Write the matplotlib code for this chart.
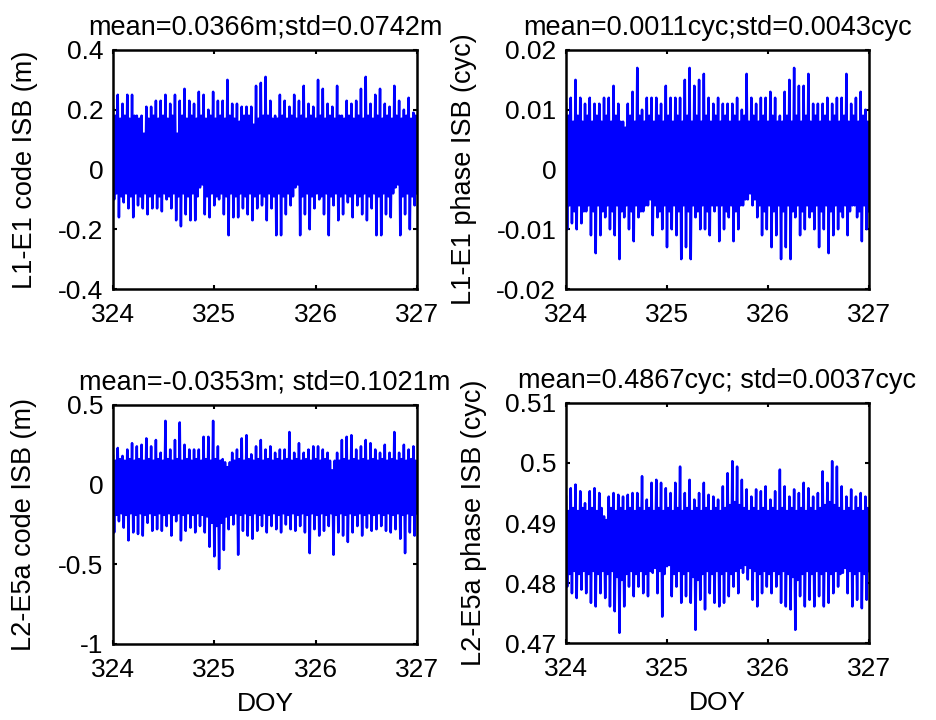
import numpy as np
import matplotlib
matplotlib.use("Agg")
import matplotlib.pyplot as plt

plt.rcParams['font.family'] = ['Liberation Sans', 'DejaVu Sans']
plt.rcParams['axes.unicode_minus'] = False

# epochs span DOY 324 - 327
doy_start, doy_end = 324, 327

# L1-E1 code ISB, upper / lower excursions (cm)
l1_code_hi_cm = [21, 18, 25, 17, 22, 18, 25, 17, 25, 18, 18, 17, 18, 12, 21, 17,
                 21, 18, 23, 17, 23, 18, 25, 17, 22, 18, 25, 12, 23, 18, 27, 17,
                 23, 18, 22, 17, 26, 18, 25, 17, 20, 18, 26, 17, 23, 18, 23, 17,
                 30, 18, 22, 17, 22, 16, 21, 18, 21, 18, 21, 15, 28, 17, 29, 18,
                 31, 18, 23, 17, 18, 17, 25, 18, 23, 17, 21, 18, 25, 17, 23, 18,
                 28, 17, 22, 18, 21, 17, 30, 18, 27, 17, 22, 18, 21, 17, 28, 18,
                 18, 17, 23, 18, 22, 17, 23, 18, 27, 17, 31, 18, 22, 17, 25, 18,
                 27, 17, 22, 18, 21, 17, 28, 18, 23, 17, 20, 18, 24, 17, 19, 18]
l1_code_lo_cm = [-10, -8, -16, -9, -11, -8, -13, -9, -16, -8, -12, -9, -13, -8, -15, -9,
                 -13, -8, -13, -9, -14, -8, -10, -9, -13, -8, -17, -9, -19, -8, -15, -9,
                 -17, -8, -17, -9, -6, -5, -15, -9, -16, -8, -12, -9, -10, -8, -15, -9,
                 -22, -8, -16, -9, -16, -8, -13, -9, -15, -8, -17, -9, -13, -8, -12, -9,
                 -17, -8, -13, -9, -22, -8, -22, -9, -15, -8, -12, -9, -6, -5, -22, -9,
                 -15, -8, -20, -9, -13, -8, -10, -9, -15, -8, -22, -9, -12, -8, -17, -9,
                 -15, -8, -11, -9, -16, -8, -12, -9, -15, -8, -17, -9, -13, -8, -22, -9,
                 -22, -8, -15, -9, -16, -8, -6, -5, -22, -9, -15, -8, -20, -9, -12, -8]

# L1-E1 phase ISB (1e-3 cycles)
l1_phase_hi_mc = [11, 9, 12, 8, 15, 9, 12, 8, 11, 9, 12, 8, 11, 9, 11, 8,
                  12, 9, 12, 8, 14, 9, 11, 8, 8, 7, 11, 9, 13, 8, 17, 9,
                  10, 8, 12, 9, 12, 8, 12, 9, 11, 8, 14, 9, 12, 8, 12, 9,
                  12, 8, 15, 9, 17, 8, 14, 9, 15, 8, 16, 9, 12, 8, 11, 9,
                  12, 8, 11, 9, 11, 8, 11, 9, 12, 8, 10, 9, 16, 8, 12, 9,
                  11, 8, 12, 9, 12, 8, 13, 9, 12, 8, 9, 8, 13, 9, 15, 8,
                  17, 9, 14, 8, 14, 9, 16, 8, 11, 9, 11, 8, 11, 9, 12, 8,
                  11, 9, 12, 8, 12, 9, 16, 8, 11, 9, 12, 8, 13, 9, 10, 8]
l1_phase_lo_mc = [-10, -6, -9, -7, -10, -6, -9, -7, -7, -6, -11, -7, -14, -6, -11, -7,
                  -8, -6, -10, -7, -11, -6, -15, -7, -8, -6, -10, -7, -12, -6, -8, -7,
                  -7, -6, -6, -5, -11, -6, -8, -7, -10, -6, -13, -7, -10, -6, -11, -7,
                  -15, -6, -13, -7, -15, -6, -8, -7, -10, -6, -10, -7, -11, -6, -7, -6,
                  -12, -6, -10, -7, -8, -6, -12, -7, -10, -6, -6, -5, -5, -4, -6, -5,
                  -8, -6, -11, -7, -10, -6, -13, -7, -11, -6, -15, -7, -13, -6, -15, -7,
                  -8, -6, -11, -7, -10, -6, -8, -7, -10, -6, -13, -7, -10, -6, -14, -7,
                  -11, -6, -10, -7, -8, -6, -11, -7, -6, -6, -8, -7, -12, -6, -10, -7]

# L2-E5a code ISB (cm)
l2_code_hi_cm = [18, 15, 23, 16, 18, 15, 22, 16, 26, 15, 24, 16, 25, 15, 29, 16,
                 24, 15, 28, 16, 20, 15, 40, 16, 22, 15, 28, 16, 39, 15, 25, 16,
                 22, 15, 22, 16, 22, 15, 30, 16, 30, 15, 40, 16, 24, 15, 16, 14,
                 11, 14, 20, 15, 22, 16, 29, 15, 31, 16, 19, 15, 24, 16, 28, 15,
                 22, 16, 24, 15, 20, 16, 22, 15, 22, 16, 33, 15, 20, 16, 26, 15,
                 20, 16, 22, 15, 24, 16, 24, 15, 22, 16, 20, 15, 9, 15, 20, 15,
                 28, 16, 30, 15, 31, 16, 22, 15, 24, 16, 28, 15, 26, 16, 22, 15,
                 20, 16, 25, 15, 20, 16, 33, 15, 20, 16, 25, 15, 22, 16, 24, 15]
l2_code_lo_cm = [-30, -19, -23, -18, -27, -19, -35, -18, -30, -19, -31, -18, -32, -19, -24, -18,
                 -29, -19, -28, -18, -29, -19, -26, -18, -32, -19, -23, -18, -35, -19, -29, -18,
                 -27, -19, -30, -18, -26, -19, -30, -20, -39, -24, -45, -26, -53, -24, -41, -20,
                 -28, -19, -25, -18, -44, -19, -29, -18, -32, -19, -34, -18, -29, -19, -26, -18,
                 -30, -19, -26, -18, -28, -19, -30, -18, -25, -19, -28, -18, -29, -19, -26, -18,
                 -30, -19, -43, -18, -28, -19, -32, -18, -29, -19, -26, -18, -44, -19, -30, -18,
                 -32, -19, -36, -18, -30, -19, -26, -18, -32, -19, -27, -18, -29, -19, -28, -18,
                 -26, -19, -29, -18, -30, -19, -28, -18, -34, -19, -43, -18, -30, -19, -32, -18]

# L2-E5a phase ISB (1e-3 cycles)
l2_phase_hi_mc = [494.4, 492.0, 495.8, 492.5, 496.4, 492.0, 495.3, 492.5, 493.3, 492.0, 495.3, 492.5, 495.8, 492.0, 495.0, 492.5,
                  491.1, 490.5, 494.4, 492.5, 495.0, 492.0, 494.7, 492.5, 494.4, 492.0, 494.7, 492.5, 495.0, 492.0, 495.0, 492.5,
                  497.8, 492.0, 493.9, 492.5, 496.7, 492.0, 497.2, 492.5, 496.7, 492.0, 495.8, 492.5, 495.0, 492.0, 496.7, 492.5,
                  499.4, 492.0, 495.0, 492.5, 497.2, 492.0, 493.9, 492.5, 495.0, 492.0, 496.7, 492.5, 494.7, 492.0, 494.4, 492.5,
                  493.9, 492.0, 496.1, 492.5, 498.3, 493.0, 500.3, 493.5, 499.4, 493.0, 497.2, 492.5, 495.6, 492.0, 494.4, 492.5,
                  495.6, 492.0, 495.3, 492.5, 496.1, 492.0, 493.9, 492.5, 495.3, 492.0, 498.9, 492.5, 496.1, 492.0, 494.4, 492.5,
                  495.6, 492.0, 495.0, 492.5, 496.7, 492.0, 495.8, 492.5, 494.4, 492.0, 495.0, 492.5, 498.6, 493.0, 496.7, 493.5,
                  500.3, 493.0, 499.4, 492.5, 496.1, 492.0, 494.4, 492.5, 495.6, 492.0, 494.4, 492.5, 495.0, 492.0, 494.4, 492.5]
l2_phase_lo_mc = [479.4, 481.5, 478.3, 482.0, 477.5, 481.5, 478.9, 482.0, 478.3, 481.5, 476.7, 482.0, 476.1, 481.5, 478.3, 482.0,
                  477.5, 481.5, 476.1, 482.0, 475.3, 481.0, 471.7, 480.5, 476.1, 481.5, 479.4, 482.0, 477.8, 481.5, 479.4, 482.0,
                  478.3, 481.5, 477.8, 482.0, 481.7, 482.5, 478.3, 482.0, 474.4, 481.5, 482.8, 483.0, 477.8, 481.5, 479.4, 482.0,
                  476.7, 481.5, 477.8, 482.0, 476.7, 481.0, 472.2, 480.5, 477.2, 481.5, 475.6, 482.0, 478.3, 481.5, 476.7, 482.0,
                  476.1, 481.5, 476.7, 482.0, 477.8, 481.5, 479.4, 482.0, 478.3, 482.5, 481.7, 483.0, 480.6, 482.5, 477.2, 482.0,
                  476.1, 481.5, 478.3, 482.0, 479.4, 481.5, 478.3, 482.0, 479.4, 481.5, 476.7, 482.0, 476.1, 481.5, 475.6, 481.0,
                  472.2, 480.5, 477.8, 481.5, 476.1, 482.0, 477.2, 481.5, 476.1, 482.0, 477.8, 481.5, 476.1, 482.0, 476.7, 481.5,
                  478.3, 482.0, 479.4, 481.5, 481.7, 482.5, 478.3, 482.0, 476.1, 481.5, 477.2, 482.0, 475.8, 481.5, 477.2, 482.0]

titles = ["mean=0.0366m;std=0.0742m", "mean=0.0011cyc;std=0.0043cyc",
          "mean=-0.0353m; std=0.1021m", "mean=0.4867cyc; std=0.0037cyc"]
ylabels = ["L1-E1 code ISB (m)", "L1-E1 phase ISB (cyc)",
           "L2-E5a code ISB (m)", "L2-E5a phase ISB (cyc)"]
ylims = [(-0.4, 0.4), (-0.02, 0.02), (-1, 0.5), (0.47, 0.51)]
yticks = [[-0.4, -0.2, 0, 0.2, 0.4], [-0.02, -0.01, 0, 0.01, 0.02],
          [-1, -0.5, 0, 0.5], [0.47, 0.48, 0.49, 0.5, 0.51]]
xticks = [324, 325, 326, 327]


def zigzag(hi, lo, scale):
    # alternate upper and lower samples into one series
    hi = np.asarray(hi, float) * scale
    lo = np.asarray(lo, float) * scale
    y = np.empty(2 * len(hi))
    y[0::2] = hi
    y[1::2] = lo
    t = np.linspace(doy_start, doy_end, len(y))
    return t, y


series = [zigzag(l1_code_hi_cm, l1_code_lo_cm, 0.01),
          zigzag(l1_phase_hi_mc, l1_phase_lo_mc, 0.001),
          zigzag(l2_code_hi_cm, l2_code_lo_cm, 0.01),
          zigzag(l2_phase_hi_mc, l2_phase_lo_mc, 0.001)]

rects = [[0.1207, 0.5986, 0.3248, 0.3320],
         [0.6047, 0.5986, 0.3237, 0.3320],
         [0.1207, 0.1056, 0.3248, 0.3320],
         [0.6047, 0.1069, 0.3237, 0.3334]]
# right edge of each y label, in axes fraction
ylabel_x = [-0.247, -0.294, -0.25, -0.261]

fig = plt.figure(figsize=(9.36, 7.2), dpi=100)
for i in range(4):
    ax = fig.add_axes(rects[i])
    t, y = series[i]
    ax.plot(t, y, color="#0000ff", lw=1.8)
    ax.set_xlim(doy_start, doy_end)
    ax.set_ylim(*ylims[i])
    ax.set_xticks(xticks)
    ax.set_yticks(yticks[i])
    ax.set_yticklabels(["%g" % v for v in yticks[i]])
    ax.tick_params(direction="in", length=3, width=1.5, top=True, right=True,
                   labelsize=19)
    ax.tick_params(axis="x", pad=10)
    ax.tick_params(axis="y", pad=7)
    for s in ax.spines.values():
        s.set_linewidth(1.8)
    ax.set_title(titles[i], fontsize=19.5, pad=11)
    ax.set_ylabel(ylabels[i], fontsize=19.5)
    ax.yaxis.set_label_coords(ylabel_x[i], 0.5)
    if i >= 2:
        ax.set_xlabel("DOY", fontsize=19, labelpad=7)

fig.savefig("out.png", dpi=100)
